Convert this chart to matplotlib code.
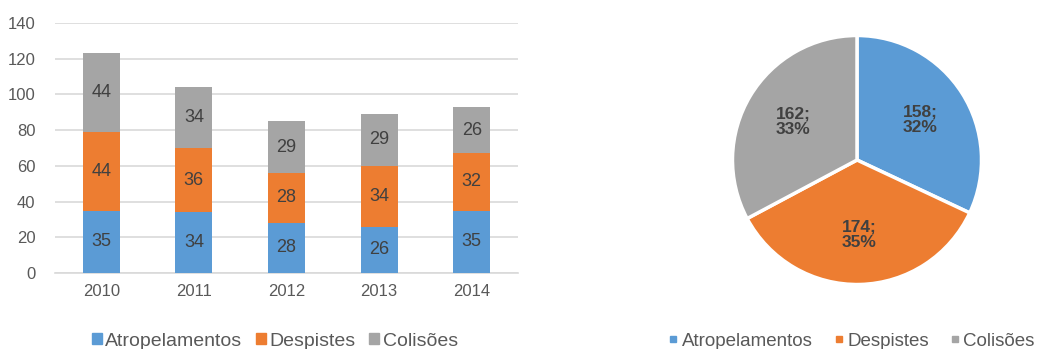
import matplotlib.pyplot as plt
from matplotlib.patches import Patch
from matplotlib.lines import Line2D
import numpy as np

plt.rcParams['font.family'] = ['Liberation Sans', 'DejaVu Sans']

anos = ['2010', '2011', '2012', '2013', '2014']
atropelamentos = [35, 34, 28, 26, 35]
despistes = [44, 36, 28, 34, 32]
colisoes = [44, 34, 29, 29, 26]

categorias = ['Atropelamentos', 'Despistes', 'Colisões']
cores = ['#5B9BD5', '#ED7D31', '#A5A5A5']
cinza_texto = '#595959'

fig = plt.figure(figsize=(10.38, 3.49), dpi=100)

# barras empilhadas por ano
ax = fig.add_axes([55 / 1038, 1 - 273 / 349, 463 / 1038, 250 / 349])
x = np.arange(len(anos))
base = np.zeros(len(anos))
for serie, cor in zip([atropelamentos, despistes, colisoes], cores):
    barras = ax.bar(x, serie, width=0.4, bottom=base, color=cor, zorder=3)
    ax.bar_label(barras, label_type='center', fontsize=13, color='#404040')
    base += np.array(serie)

ax.set_xlim(-0.5, len(anos) - 0.5)
ax.set_ylim(0, 140)
ax.set_yticks(range(0, 141, 20))
ax.set_xticks(x)
ax.set_xticklabels(anos)
ax.tick_params(length=0, labelsize=12, labelcolor=cinza_texto)
ax.tick_params(axis='x', pad=8)
ax.tick_params(axis='y', pad=14)
ax.grid(axis='y', color='#D9D9D9', linewidth=1.2, zorder=0)
for lado in ['top', 'right', 'left']:
    ax.spines[lado].set_visible(False)
ax.spines['bottom'].set_color('#D9D9D9')
ax.spines['bottom'].set_linewidth(1.2)

handles = [Patch(color=c, label=l) for c, l in zip(cores, categorias)]
fig.legend(handles=handles, loc='center', bbox_to_anchor=(275 / 1038, 1 - 341 / 349),
           ncol=3, frameon=False, fontsize=14, handlelength=0.5, handleheight=0.5,
           handletextpad=0.2, columnspacing=0.7, labelcolor=cinza_texto)

# circular com os totais
totais = [sum(atropelamentos), sum(despistes), sum(colisoes)]
total = sum(totais)

ax2 = fig.add_axes([(857 - 127) / 1038, (349 - 160 - 127) / 349, 254 / 1038, 254 / 349])
fatias, textos = ax2.pie(totais, colors=cores, startangle=90, counterclock=False, radius=1,
                         wedgeprops=dict(edgecolor='white', linewidth=2.5))
for fatia, v in zip(fatias, totais):
    ang = np.deg2rad((fatia.theta1 + fatia.theta2) / 2)
    ax2.text(0.6 * np.cos(ang), 0.6 * np.sin(ang), f'{v};\n{round(100 * v / total)}%',
             ha='center', va='center', fontsize=12.5, fontweight='bold', color='#404040',
             linespacing=1.0)
ax2.set_xlim(-1.02, 1.02)
ax2.set_ylim(-1.02, 1.02)
ax2.set_aspect('equal')

handles2 = [Line2D([], [], marker='s', linestyle='none', markersize=4, color=c, label=l)
            for c, l in zip(cores, categorias)]
fig.legend(handles=handles2, loc='center', bbox_to_anchor=(852 / 1038, 1 - 341 / 349),
           ncol=3, frameon=False, fontsize=13.5, handlelength=0.4, handletextpad=0.25,
           columnspacing=1.2, labelcolor=cinza_texto, borderpad=0.1)

fig.savefig('out.png', dpi=100)
